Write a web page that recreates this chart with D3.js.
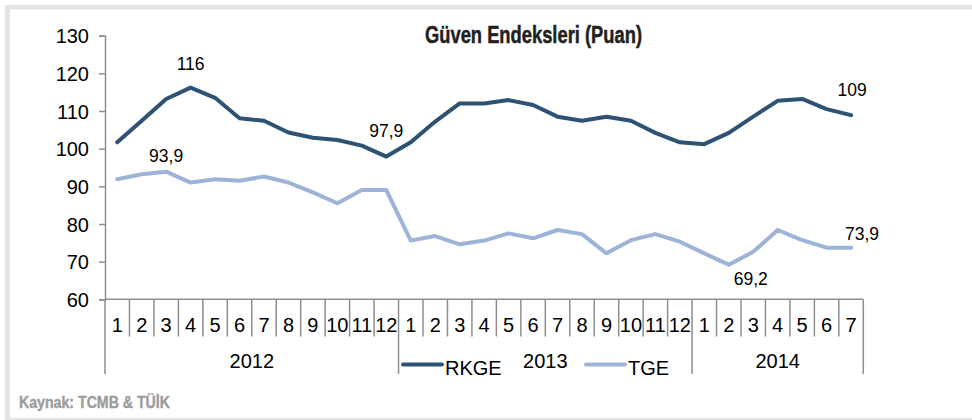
<!DOCTYPE html>
<html lang="tr">
<head>
<meta charset="UTF-8">
<title>Güven Endeksleri</title>
<style>
  body { margin: 0; background: #fff; }
  svg { display: block; }
  text { font-family: "Liberation Sans", Arial, sans-serif; fill: #000; }
  .narrow { font-family: "Liberation Sans Narrow", "Liberation Sans", Arial, sans-serif; font-weight: bold; }
</style>
</head>
<body>
<svg id="svg" width="972" height="420"></svg>
<script src="https://d3js.org/d3.v7.min.js"></script>
<script>
// data
const years = ["2012", "2013", "2014"]
const monthsPerYear = [12, 12, 7]
const rkge = [101.7, 107.4, 113.2, 116.2, 113.5, 108.1, 107.4, 104.3, 102.9, 102.3, 100.8, 97.9,
              101.7, 107.2, 112.0, 112.0, 112.9, 111.6, 108.5, 107.4, 108.5, 107.4, 104.2, 101.7,
              101.2, 104.2, 108.5, 112.7, 113.2, 110.5, 108.9]
const tge = [91.9, 93.2, 93.9, 91.0, 91.9, 91.5, 92.6, 91.0, 88.4, 85.5, 89.0, 89.0,
             75.6, 76.8, 74.6, 75.6, 77.5, 76.2, 78.4, 77.3, 72.2, 75.7, 77.3, 75.3,
             72.2, 69.2, 72.6, 78.4, 75.7, 73.7, 73.7]
const yTicks = [60, 70, 80, 90, 100, 110, 120, 130]
const seriesNames = ["RKGE", "TGE"]
const valueLabels = [
  { series: "RKGE", idx: 3, text: "116" },
  { series: "RKGE", idx: 11, text: "97,9" },
  { series: "RKGE", idx: 30, text: "109" },
  { series: "TGE", idx: 2, text: "93,9" },
  { series: "TGE", idx: 25, text: "69,2" },
  { series: "TGE", idx: 30, text: "73,9" }
]

// styles / positions
const colors = { RKGE: "#2e5273", TGE: "#9db3d7" }
const labelOffsets = {
  "RKGE-3": [0, -18], "RKGE-11": [0, -20], "RKGE-30": [1, -19],
  "TGE-2": [0, -10], "TGE-25": [22, 20], "TGE-30": [11, -8]
}
const axisColor = "#8e8e8e"

const svg = d3.select("svg#svg")

// frame
svg.append("rect").attr("x", 5).attr("y", 5).attr("width", 967).attr("height", 415).attr("fill", "#e5e4e2")
svg.append("rect").attr("x", 10).attr("y", 9.5).attr("width", 962).attr("height", 408.5).attr("fill", "#fff")

// build months
const cats = []
const yearOf = []
years.forEach((y, yi) => {
  for (let m = 1; m <= monthsPerYear[yi]; m++) { cats.push(m); yearOf.push(yi) }
})
const idx = d3.range(cats.length)

const xScale = d3.scaleBand().domain(idx).range([105, 863.3]).padding(0)
const yScale = d3.scaleLinear().domain([60, 130]).range([299.3, 35.7])
const cx = i => xScale(i) + xScale.bandwidth() / 2

// title
svg.append("text").attr("class", "narrow")
  .attr("x", 425).attr("y", 43)
  .attr("textLength", 217).attr("lengthAdjust", "spacingAndGlyphs")
  .style("font-size", "24px").style("fill", "#231f20")
  .style("stroke", "#231f20").style("stroke-width", 0.5)
  .text("Güven Endeksleri (Puan)")

// y axis
const yAxis = d3.axisLeft(yScale).tickValues(yTicks).tickSize(6).tickPadding(10)
const gy = svg.append("g").attr("transform", "translate(105,0)").call(yAxis)
gy.select(".domain").attr("stroke", axisColor).attr("stroke-width", 1.5)
gy.selectAll(".tick line").attr("stroke", axisColor).attr("stroke-width", 1.5)
gy.selectAll(".tick text").style("font-size", "20px").style("font-family", "Liberation Sans, Arial, sans-serif").attr("fill", "#000").attr("dy", "0.36em")

// x axis
const gx = svg.append("g")
gx.append("line").attr("x1", 105).attr("x2", 863.3).attr("y1", 299.3).attr("y2", 299.3)
  .attr("stroke", axisColor).attr("stroke-width", 1.5)
const bounds = d3.range(cats.length + 1)
gx.selectAll("line.tk").data(bounds).join("line").attr("class", "tk")
  .attr("x1", i => i < cats.length ? xScale(i) : xScale.range()[1])
  .attr("x2", i => i < cats.length ? xScale(i) : xScale.range()[1])
  .attr("y1", 299.3)
  .attr("y2", i => (i === 0 || i === cats.length || yearOf[i] !== yearOf[i - 1]) ? 374 : 336.5)
  .attr("stroke", axisColor).attr("stroke-width", 1.5)
gx.selectAll("text.month").data(idx).join("text").attr("class", "month")
  .attr("x", i => cx(i)).attr("y", 331.5).attr("text-anchor", "middle")
  .style("font-size", "20px").text(i => cats[i])
let start = 0
years.forEach((y, yi) => {
  const n = monthsPerYear[yi]
  const mid = (xScale(start) + (start + n < cats.length ? xScale(start + n) : xScale.range()[1])) / 2
  gx.append("text").attr("x", mid).attr("y", 368).attr("text-anchor", "middle")
    .style("font-size", "20px").text(y)
  start += n
})

// lines
const line = d3.line().x((d, i) => cx(i)).y(d => yScale(d))
const seriesData = { RKGE: rkge, TGE: tge }
seriesNames.forEach(s => {
  svg.append("path").datum(seriesData[s]).attr("d", line)
    .attr("fill", "none").attr("stroke", colors[s]).attr("stroke-width", 4)
    .attr("stroke-linejoin", "round").attr("stroke-linecap", "round")
})

// value labels
svg.selectAll("text.vl").data(valueLabels).join("text").attr("class", "vl")
  .attr("x", d => cx(d.idx) + labelOffsets[d.series + "-" + d.idx][0])
  .attr("y", d => yScale(seriesData[d.series][d.idx]) + labelOffsets[d.series + "-" + d.idx][1])
  .attr("text-anchor", "middle").style("font-size", "17.5px")
  .text(d => d.text)

// legend
const legendPos = { RKGE: 403, TGE: 586 }
seriesNames.forEach(s => {
  const x0 = legendPos[s]
  svg.append("line").attr("x1", x0).attr("x2", x0 + 39).attr("y1", 364.5).attr("y2", 364.5)
    .attr("stroke", colors[s]).attr("stroke-width", 4).attr("stroke-linecap", "round")
  svg.append("text").attr("x", x0 + 42).attr("y", 375).style("font-size", "20px").text(s)
})

// source
svg.append("text").attr("class", "narrow").attr("x", 19).attr("y", 408)
  .attr("textLength", 151).attr("lengthAdjust", "spacingAndGlyphs")
  .style("font-size", "17px").style("fill", "#9c9c9c")
  .style("stroke", "#9c9c9c").style("stroke-width", 0.4)
  .text("Kaynak: TCMB & TÜİK")
</script>
</body>
</html>
